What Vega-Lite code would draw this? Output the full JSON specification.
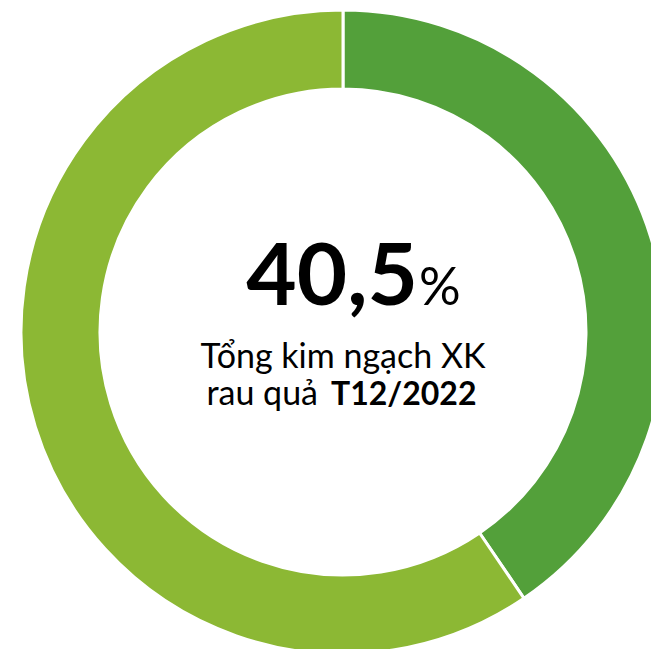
{
  "$schema": "https://vega.github.io/schema/vega-lite/v6.json",
  "autosize": "none",
  "width": 686,
  "height": 664,
  "padding": 0,
  "background": "white",
  "view": {"stroke": null},
  "layer": [
    {
      "data": {"values": [
        {"nhom": "T12/2022", "ty_le": 40.5},
        {"nhom": "Còn lại", "ty_le": 59.5}
      ]},
      "mark": {"type": "arc", "radius": 322, "radius2": 243, "stroke": "white", "strokeWidth": 3},
      "encoding": {
        "theta": {"field": "ty_le", "type": "quantitative", "stack": true},
        "order": {"field": "ty_le", "sort": "ascending"},
        "color": {"field": "nhom", "type": "nominal", "legend": null,
          "scale": {"domain": ["T12/2022", "Còn lại"], "range": ["#53a03a", "#8cb834"]}}
      }
    },
    {
      "data": {"values": [{"t": "40,5"}]},
      "mark": {"type": "text", "font": "Lato", "fontWeight": "bold", "fontSize": 87, "align": "right", "baseline": "alphabetic", "dx": 75, "dy": -27, "color": "black"},
      "encoding": {"text": {"field": "t"}}
    },
    {
      "data": {"values": [{"t": "%"}]},
      "mark": {"type": "text", "font": "Lato", "fontSize": 52, "align": "left", "baseline": "alphabetic", "dx": 76, "dy": -27, "color": "black"},
      "encoding": {"text": {"field": "t"}}
    },
    {
      "data": {"values": [{"t": "Tổng kim ngạch XK"}]},
      "mark": {"type": "text", "font": "Lato", "fontSize": 34, "align": "center", "baseline": "alphabetic", "dx": 0, "dy": 36, "color": "black"},
      "encoding": {"text": {"field": "t"}}
    },
    {
      "data": {"values": [{"t": "rau quả"}]},
      "mark": {"type": "text", "font": "Lato", "fontSize": 34, "align": "right", "baseline": "alphabetic", "dx": -25, "dy": 73, "color": "black"},
      "encoding": {"text": {"field": "t"}}
    },
    {
      "data": {"values": [{"t": "T12/2022"}]},
      "mark": {"type": "text", "font": "Lato", "fontWeight": "bold", "fontSize": 32, "align": "left", "baseline": "alphabetic", "dx": -12, "dy": 73, "color": "black"},
      "encoding": {"text": {"field": "t"}}
    }
  ]
}
